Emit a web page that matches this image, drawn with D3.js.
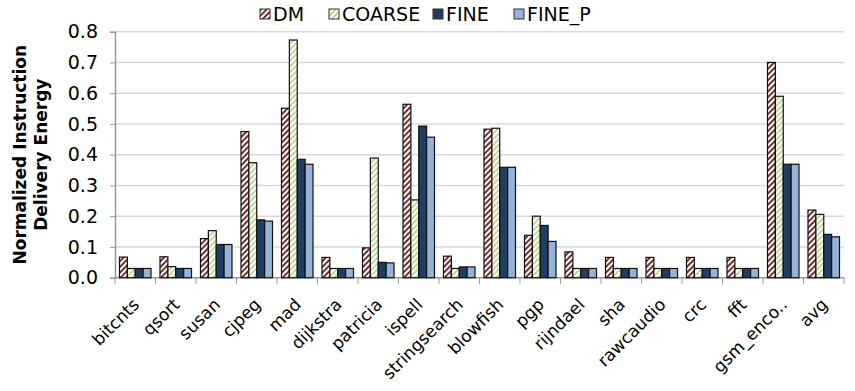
<!DOCTYPE html>
<html>
<head>
<meta charset="utf-8">
<title>Normalized Instruction Delivery Energy</title>
<style>
  body { margin: 0; background: #fff; }
  text { font-family: "DejaVu Sans", Verdana, sans-serif; fill: #000; }
</style>
</head>
<body>
<div id="container"></div>
<script src="https://cdn.jsdelivr.net/npm/d3@7"></script>
<script>
// data
var categories = ['bitcnts', 'qsort', 'susan', 'cjpeg', 'mad', 'dijkstra', 'patricia', 'ispell',
  'stringsearch', 'blowfish', 'pgp', 'rijndael', 'sha', 'rawcaudio', 'crc', 'fft', 'gsm_enco..', 'avg']
var seriesNames = ['DM', 'COARSE', 'FINE', 'FINE_P']
var dm     = [0.067, 0.068, 0.127, 0.475, 0.551, 0.066, 0.097, 0.564, 0.070, 0.483, 0.138, 0.084, 0.066, 0.066, 0.066, 0.066, 0.700, 0.220]
var coarse = [0.030, 0.036, 0.153, 0.374, 0.773, 0.030, 0.389, 0.253, 0.030, 0.486, 0.200, 0.030, 0.030, 0.030, 0.030, 0.030, 0.590, 0.206]
var fine   = [0.030, 0.030, 0.108, 0.188, 0.385, 0.030, 0.050, 0.493, 0.035, 0.359, 0.170, 0.030, 0.030, 0.030, 0.030, 0.030, 0.369, 0.141]
var fineP  = [0.030, 0.030, 0.108, 0.184, 0.369, 0.030, 0.048, 0.457, 0.035, 0.359, 0.118, 0.030, 0.030, 0.030, 0.030, 0.030, 0.369, 0.133]
var yTicks = [0, 0.1, 0.2, 0.3, 0.4, 0.5, 0.6, 0.7, 0.8]

var seriesValues = [dm, coarse, fine, fineP]
var width = 855, height = 391
var margin = { left: 115, right: 11, top: 31.7, bottom: 113.3 }

var svg = d3.select('#container').append('svg')
  .attr('width', width).attr('height', height)

// hatch patterns
var defs = svg.append('defs')
function hatch(id, color) {
  var p = defs.append('pattern').attr('id', id)
    .attr('patternUnits', 'userSpaceOnUse').attr('width', 4).attr('height', 4)
    .attr('patternTransform', 'rotate(45)')
  p.append('rect').attr('width', 4).attr('height', 4).attr('fill', '#fff')
  p.append('rect').attr('width', 2).attr('height', 4).attr('fill', color)
}
hatch('hatchDM', '#7a2e2e')
hatch('hatchCoarse', '#c3d69b')
var fills = ['url(#hatchDM)', 'url(#hatchCoarse)', '#203e62', '#95b3d7']

var x = d3.scaleBand().domain(categories)
  .range([margin.left, width - margin.right])
  .paddingInner(0.222).paddingOuter(0.111)
var xs = d3.scaleBand().domain(seriesNames).range([0, x.bandwidth()])
var y = d3.scaleLinear().domain([0, 0.8]).range([height - margin.bottom, margin.top])

// gridlines
svg.append('g').selectAll('line').data(yTicks.slice(1)).enter().append('line')
  .attr('x1', margin.left).attr('x2', width - margin.right)
  .attr('y1', function (d) { return y(d) }).attr('y2', function (d) { return y(d) })
  .attr('stroke', '#d9d9d9').attr('stroke-width', 1.5)

// y axis
var yAxis = svg.append('g').attr('transform', 'translate(' + margin.left + ',0)')
  .call(d3.axisLeft(y).tickValues(yTicks).tickFormat(d3.format('.1f')).tickSize(5).tickPadding(12))
yAxis.select('.domain').attr('stroke', '#999').attr('stroke-width', 1.5)
yAxis.selectAll('.tick line').attr('stroke', '#999')
yAxis.selectAll('text').style('font-size', '19px').attr('fill', '#000')

// x axis
var xAxis = svg.append('g').attr('transform', 'translate(0,' + y(0) + ')')
xAxis.append('line').attr('x1', margin.left).attr('x2', width - margin.right)
  .attr('stroke', '#999').attr('stroke-width', 1.5)
var bounds = categories.map(function (c) { return x(c) - x.step() * x.paddingInner() / 2 })
bounds.push(width - margin.right)
xAxis.selectAll('.xt').data(bounds).enter().append('line')
  .attr('x1', function (d) { return d }).attr('x2', function (d) { return d })
  .attr('y1', 0).attr('y2', 6).attr('stroke', '#999')
// labels slanted 45 degrees, right end under the group centre
var c45 = Math.SQRT1_2
xAxis.selectAll('.xl').data(categories).enter().append('text')
  .attr('transform', function (d) {
    var tx = x(d) + x.bandwidth() / 2 + 5
    return 'matrix(' + c45 + ',' + (-c45) + ',' + c45 + ',' + c45 + ',' + tx + ',28)'
  })
  .attr('text-anchor', 'end').style('font-size', '17px')
  .text(function (d) { return d })

// bars
var groups = svg.append('g').selectAll('g').data(categories).enter().append('g')
  .attr('transform', function (d) { return 'translate(' + x(d) + ',0)' })
groups.selectAll('rect')
  .data(function (d, i) {
    return seriesNames.map(function (s, j) { return { s: s, j: j, v: seriesValues[j][i] } })
  })
  .enter().append('rect')
  .attr('x', function (d) { return xs(d.s) })
  .attr('width', xs.bandwidth())
  .attr('y', function (d) { return y(d.v) })
  .attr('height', function (d) { return y(0) - y(d.v) })
  .attr('fill', function (d) { return fills[d.j] })
  .attr('stroke', '#111').attr('stroke-width', 1.2)

// y title
svg.append('text')
  .attr('transform', 'translate(26,' + y(0.4) + ') rotate(-90)')
  .attr('text-anchor', 'middle').style('font-size', '17px').style('font-weight', 'bold')
  .text('Normalized Instruction')
svg.append('text')
  .attr('transform', 'translate(47,' + y(0.4) + ') rotate(-90)')
  .attr('text-anchor', 'middle').style('font-size', '17px').style('font-weight', 'bold')
  .text('Delivery Energy')

// legend
var legendX = [260, 329, 433, 514]
var legend = svg.append('g').selectAll('g').data(seriesNames).enter().append('g')
  .attr('transform', function (d, i) { return 'translate(' + legendX[i] + ',9)' })
legend.append('rect').attr('width', 10).attr('height', 10)
  .attr('fill', function (d, i) { return fills[i] })
  .attr('stroke', '#333').attr('stroke-width', 1)
legend.append('text').attr('x', 13).attr('y', 11.5)
  .style('font-size', '19px').text(function (d) { return d })
</script>
</body>
</html>
